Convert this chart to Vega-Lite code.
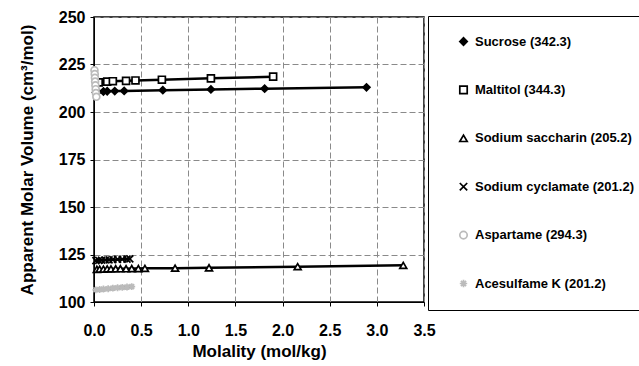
{
  "$schema": "https://vega.github.io/schema/vega-lite/v6.json",
  "width": 330,
  "height": 285,
  "autosize": "none",
  "padding": {"left": 94, "top": 17, "right": 215, "bottom": 64},
  "background": "white",
  "config": {
    "font": "Liberation Sans",
    "view": {"stroke": "black", "strokeWidth": 1.5},
    "axis": {
      "labelFont": "Liberation Sans", "labelFontWeight": "bold", "labelFontSize": 16, "labelColor": "black",
      "titleFont": "Liberation Sans", "titleFontWeight": "bold", "titleFontSize": 17, "titleColor": "black",
      "domainColor": "black", "tickColor": "black", "tickSize": 4, "labelFlush": false,
      "gridColor": "#8a8a8a", "gridDash": [6, 3], "gridWidth": 1
    }
  },
  "data": {"values": [
    {"s": "Sucrose (342.3)", "m": 0.02, "v": 210.4},
    {"s": "Sucrose (342.3)", "m": 0.04, "v": 210.6},
    {"s": "Sucrose (342.3)", "m": 0.10, "v": 210.8},
    {"s": "Sucrose (342.3)", "m": 0.14, "v": 210.9},
    {"s": "Sucrose (342.3)", "m": 0.22, "v": 211.0},
    {"s": "Sucrose (342.3)", "m": 0.32, "v": 211.1},
    {"s": "Sucrose (342.3)", "m": 0.73, "v": 211.5},
    {"s": "Sucrose (342.3)", "m": 1.24, "v": 211.9},
    {"s": "Sucrose (342.3)", "m": 1.81, "v": 212.3},
    {"s": "Sucrose (342.3)", "m": 2.89, "v": 213.0},
    {"s": "Maltitol (344.3)", "m": 0.05, "v": 215.6},
    {"s": "Maltitol (344.3)", "m": 0.14, "v": 216.0},
    {"s": "Maltitol (344.3)", "m": 0.20, "v": 216.2},
    {"s": "Maltitol (344.3)", "m": 0.34, "v": 216.4},
    {"s": "Maltitol (344.3)", "m": 0.44, "v": 216.6},
    {"s": "Maltitol (344.3)", "m": 0.72, "v": 217.0},
    {"s": "Maltitol (344.3)", "m": 1.24, "v": 217.7},
    {"s": "Maltitol (344.3)", "m": 1.90, "v": 218.6},
    {"s": "Sodium saccharin (205.2)", "m": 0.03, "v": 117.2},
    {"s": "Sodium saccharin (205.2)", "m": 0.06, "v": 117.3},
    {"s": "Sodium saccharin (205.2)", "m": 0.10, "v": 117.3},
    {"s": "Sodium saccharin (205.2)", "m": 0.14, "v": 117.4},
    {"s": "Sodium saccharin (205.2)", "m": 0.18, "v": 117.4},
    {"s": "Sodium saccharin (205.2)", "m": 0.23, "v": 117.5},
    {"s": "Sodium saccharin (205.2)", "m": 0.28, "v": 117.5},
    {"s": "Sodium saccharin (205.2)", "m": 0.34, "v": 117.5},
    {"s": "Sodium saccharin (205.2)", "m": 0.40, "v": 117.6},
    {"s": "Sodium saccharin (205.2)", "m": 0.47, "v": 117.6},
    {"s": "Sodium saccharin (205.2)", "m": 0.54, "v": 117.7},
    {"s": "Sodium saccharin (205.2)", "m": 0.86, "v": 117.8},
    {"s": "Sodium saccharin (205.2)", "m": 1.22, "v": 118.0},
    {"s": "Sodium saccharin (205.2)", "m": 2.16, "v": 118.6},
    {"s": "Sodium saccharin (205.2)", "m": 3.28, "v": 119.3},
    {"s": "Sodium cyclamate (201.2)", "m": 0.02, "v": 121.8},
    {"s": "Sodium cyclamate (201.2)", "m": 0.05, "v": 121.9},
    {"s": "Sodium cyclamate (201.2)", "m": 0.08, "v": 122.0},
    {"s": "Sodium cyclamate (201.2)", "m": 0.12, "v": 122.1},
    {"s": "Sodium cyclamate (201.2)", "m": 0.16, "v": 122.2},
    {"s": "Sodium cyclamate (201.2)", "m": 0.20, "v": 122.3},
    {"s": "Sodium cyclamate (201.2)", "m": 0.25, "v": 122.4},
    {"s": "Sodium cyclamate (201.2)", "m": 0.30, "v": 122.5},
    {"s": "Sodium cyclamate (201.2)", "m": 0.35, "v": 122.6},
    {"s": "Sodium cyclamate (201.2)", "m": 0.38, "v": 122.7},
    {"s": "Aspartame (294.3)", "m": 0.005, "v": 222.0},
    {"s": "Aspartame (294.3)", "m": 0.008, "v": 220.0},
    {"s": "Aspartame (294.3)", "m": 0.010, "v": 218.0},
    {"s": "Aspartame (294.3)", "m": 0.012, "v": 216.0},
    {"s": "Aspartame (294.3)", "m": 0.015, "v": 214.0},
    {"s": "Aspartame (294.3)", "m": 0.018, "v": 212.0},
    {"s": "Aspartame (294.3)", "m": 0.020, "v": 210.0},
    {"s": "Aspartame (294.3)", "m": 0.025, "v": 208.0},
    {"s": "Acesulfame K (201.2)", "m": 0.02, "v": 106.4},
    {"s": "Acesulfame K (201.2)", "m": 0.06, "v": 106.6},
    {"s": "Acesulfame K (201.2)", "m": 0.10, "v": 106.8},
    {"s": "Acesulfame K (201.2)", "m": 0.15, "v": 107.0},
    {"s": "Acesulfame K (201.2)", "m": 0.20, "v": 107.3},
    {"s": "Acesulfame K (201.2)", "m": 0.25, "v": 107.5},
    {"s": "Acesulfame K (201.2)", "m": 0.30, "v": 107.7},
    {"s": "Acesulfame K (201.2)", "m": 0.35, "v": 107.9},
    {"s": "Acesulfame K (201.2)", "m": 0.40, "v": 108.1}
  ]},
  "encoding": {
    "x": {"field": "m", "type": "quantitative",
      "scale": {"domain": [0, 3.5], "nice": false},
      "axis": {"values": [0, 0.5, 1, 1.5, 2, 2.5, 3, 3.5], "format": ".1f", "title": "Molality (mol/kg)", "labelPadding": 16, "titlePadding": 5}},
    "y": {"field": "v", "type": "quantitative",
      "scale": {"domain": [100, 250], "nice": false, "zero": false},
      "axis": {"values": [100, 125, 150, 175, 200, 225, 250], "title": "Apparent Molar Volume (cm³/mol)", "labelPadding": 5, "titlePadding": 22}}
  },
  "layer": [
    {
      "transform": [{"filter": "datum.s !== 'Aspartame (294.3)'"}],
      "mark": {"type": "line", "color": "black", "strokeWidth": 2.5},
      "encoding": {"detail": {"field": "s"}}
    },
    {
      "mark": {"type": "point", "strokeWidth": 1.7, "opacity": 1, "size": 48},
      "encoding": {
        "shape": {"field": "s", "type": "nominal",
          "scale": {
            "domain": ["Sucrose (342.3)", "Maltitol (344.3)", "Sodium saccharin (205.2)", "Sodium cyclamate (201.2)", "Aspartame (294.3)", "Acesulfame K (201.2)"],
            "range": ["diamond", "square", "triangle-up", "M-1,-1L1,1M1,-1L-1,1", "circle", "M-1,0L1,0M0,-1L0,1M-0.7,-0.7L0.7,0.7M0.7,-0.7L-0.7,0.7"]
          },
          "legend": {
            "title": null, "orient": "none", "legendX": 334, "legendY": -1,
            "strokeColor": "black", "fillColor": "white", "padding": 19,
            "rowPadding": 33.4, "symbolOffset": 10, "labelOffset": 5,
            "labelFont": "Liberation Sans", "labelFontWeight": "bold", "labelFontSize": 13, "labelColor": "black",
            "labelLimit": 300, "symbolSize": 55, "symbolStrokeWidth": 1.7
          }
        },
        "fill": {"field": "s", "type": "nominal",
          "scale": {
            "domain": ["Sucrose (342.3)", "Maltitol (344.3)", "Sodium saccharin (205.2)", "Sodium cyclamate (201.2)", "Aspartame (294.3)", "Acesulfame K (201.2)"],
            "range": ["black", "white", "white", "white", "white", "white"]
          }},
        "stroke": {"field": "s", "type": "nominal",
          "scale": {
            "domain": ["Sucrose (342.3)", "Maltitol (344.3)", "Sodium saccharin (205.2)", "Sodium cyclamate (201.2)", "Aspartame (294.3)", "Acesulfame K (201.2)"],
            "range": ["black", "black", "black", "black", "#bbbbbb", "#bbbbbb"]
          }}
      }
    }
  ]
}
